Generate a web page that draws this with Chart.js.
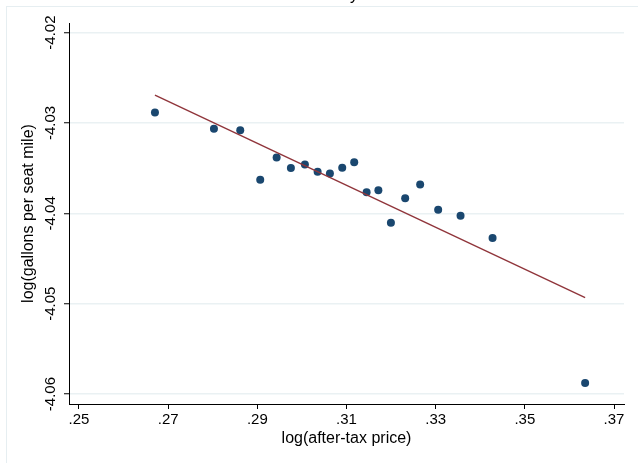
<!DOCTYPE html>
<html>
<head>
<meta charset="utf-8">
<script src="https://cdn.jsdelivr.net/npm/chart.js@4.4.0/dist/chart.umd.min.js"></script>
<style>
html, body { margin: 0; padding: 0; background: #fff; }
</style>
</head>
<body>
<canvas id="scatterChart" width="638" height="463"></canvas>
<script>
// binned scatter, price vs fuel use
var priceX = [0.26704, 0.28027, 0.28617, 0.29065, 0.29433, 0.29753, 0.30067, 0.30352, 0.30628, 0.30904,
	0.31173, 0.31451, 0.31715, 0.31996, 0.32316, 0.32652, 0.33056, 0.33558, 0.34276, 0.36352];
var gallonsY = [-4.02884, -4.03065, -4.03080, -4.03629, -4.03381, -4.03499, -4.03459, -4.03540, -4.03558, -4.03496,
	-4.03435, -4.03768, -4.03745, -4.04104, -4.03834, -4.03680, -4.03960, -4.04027, -4.04273, -4.05878];
// fitted line end points
var fitX = [0.26704, 0.36352];
var fitY = [-4.02693, -4.04933];
var xTicks = [0.25, 0.27, 0.29, 0.31, 0.33, 0.35, 0.37];
var yTicks = [-4.06, -4.05, -4.04, -4.03, -4.02];

var fontFamily = '"Liberation Sans", Arial, Helvetica, sans-serif';

var framePlugin = {
	id: 'frame',
	beforeDraw: function(chart) {
		var ctx = chart.ctx;
		ctx.save();
		ctx.fillStyle = '#fff';
		ctx.fillRect(0, 0, chart.width, chart.height);
		ctx.strokeStyle = '#e6eef1';
		ctx.lineWidth = 1;
		ctx.strokeRect(6.5, 6.5, chart.width + 20, chart.height + 20);
		// title, cut off at the top edge
		ctx.fillStyle = '#000';
		ctx.font = '16px ' + fontFamily;
		ctx.textAlign = 'center';
		ctx.textBaseline = 'alphabetic';
		ctx.fillText('y', 354, 0);
		ctx.restore();
	}
};

var points = priceX.map(function(x, i) { return {x: x, y: gallonsY[i]}; });
var fitLine = fitX.map(function(x, i) { return {x: x, y: fitY[i]}; });

new Chart(document.getElementById('scatterChart').getContext('2d'), {
	type: 'scatter',
	data: {
		datasets: [{
			label: 'bins',
			data: points,
			backgroundColor: '#1a476f',
			borderColor: '#1a476f',
			pointRadius: 4,
			pointBorderWidth: 0,
			order: 2
		}, {
			type: 'line',
			label: 'fit',
			data: fitLine,
			borderColor: '#90353b',
			borderWidth: 1.4,
			pointRadius: 0,
			fill: false,
			order: 1
		}]
	},
	options: {
		responsive: false,
		animation: false,
		layout: { padding: { top: 23, right: 14, bottom: 0, left: 0 } },
		plugins: {
			legend: { display: false },
			tooltip: { enabled: false }
		},
		scales: {
			x: {
				type: 'linear',
				min: 0.24776,
				max: 0.37224,
				afterBuildTicks: function(s) { s.ticks = xTicks.map(function(v) { return {value: v}; }); },
				afterFit: function(s) { s.height = 59; },
				grid: { drawOnChartArea: false, tickLength: 5, tickColor: '#000', tickWidth: 1 },
				border: { color: '#000', width: 1 },
				ticks: {
					color: '#000',
					font: { family: fontFamily, size: 15 },
					padding: 2,
					maxRotation: 0,
					autoSkip: false,
					callback: function(v) { return v.toFixed(2).replace(/^0/, ''); }
				},
				title: {
					display: true,
					text: 'log(after-tax price)',
					color: '#000',
					font: { family: fontFamily, size: 16 },
					padding: { top: 0, bottom: 15 }
				}
			},
			y: {
				type: 'linear',
				min: -4.0611,
				max: -4.01894,
				afterBuildTicks: function(s) { s.ticks = yTicks.map(function(v) { return {value: v}; }); },
				afterFit: function(s) { s.width = 69; },
				grid: { color: '#eaf1f3', lineWidth: 1.5, tickLength: 5, tickColor: '#000', tickWidth: 1 },
				border: { color: '#000', width: 1 },
				ticks: {
					color: '#000',
					font: { family: fontFamily, size: 15 },
					padding: -4,
					minRotation: 90,
					maxRotation: 90,
					crossAlign: 'center',
					autoSkip: false,
					callback: function(v) { return v.toFixed(2); }
				},
				title: {
					display: true,
					text: 'log(gallons per seat mile)',
					color: '#000',
					font: { family: fontFamily, size: 16 },
					padding: { top: 19, bottom: 0 }
				}
			}
		}
	},
	plugins: [framePlugin]
});
</script>
</body>
</html>
